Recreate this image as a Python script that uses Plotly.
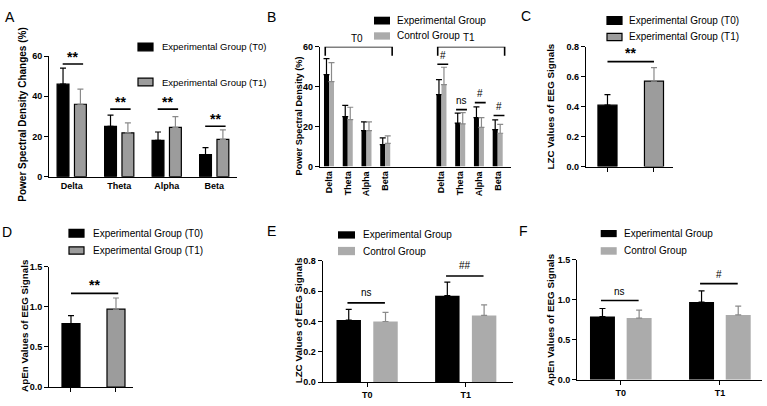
import plotly.graph_objects as go

W, H = 767, 406
FONT = "Liberation Sans, Arial, Helvetica, sans-serif"
BLACK = "#000000"
GRAY_SOLID = "#9c9c9c"   # panels A, C, D
GRAY_LIGHT = "#ababab"   # panels B, E, F
ERR_GRAY = "#8a8a8a"

# ---------------- data ----------------
bands = ["Delta", "Theta", "Alpha", "Beta"]
periods = ["T0", "T1"]
legend_ad = ["Experimental Group (T0)", "Experimental Group (T1)"]
legend_bef = ["Experimental Group", "Control Group"]
panel_letters = ["A", "B", "C", "D", "E", "F"]

# A: power spectral density changes (%)
a_t0 = [46.0, 25.0, 18.0, 11.0]
a_t0_sd = [8.0, 5.6, 4.2, 3.4]
a_t1 = [36.0, 21.8, 24.5, 18.5]
a_t1_sd = [7.5, 4.9, 5.4, 4.8]
a_sig = ["**", "**", "**", "**"]
a_sig_y = [56.0, 33.6, 33.6, 25.1]

# B: power spectral density (%) by group and period
b_t0_exp = [46.0, 25.0, 18.0, 11.0]
b_t0_exp_sd = [8.0, 5.6, 4.4, 3.4]
b_t0_ctl = [42.5, 23.5, 18.0, 11.6]
b_t0_ctl_sd = [9.5, 6.2, 4.4, 3.8]
b_t1_exp = [36.0, 21.8, 24.5, 18.5]
b_t1_exp_sd = [7.5, 5.0, 5.4, 4.9]
b_t1_ctl = [41.0, 21.4, 19.6, 16.7]
b_t1_ctl_sd = [8.7, 5.6, 4.9, 4.4]
b_sig = ["#", "ns", "#", "#"]
b_sig_y = [51.2, 28.5, 32.0, 25.6]

# C: LZC, experimental group T0 vs T1
c_vals = [0.41, 0.57]
c_sd = [0.07, 0.09]
c_sig = "**"
c_sig_y = 0.70

# D: ApEn, experimental group T0 vs T1
d_vals = [0.79, 0.97]
d_sd = [0.10, 0.14]
d_sig = "**"
d_sig_y = 1.167

# E: LZC by group
e_exp = [0.41, 0.57]
e_exp_sd = [0.07, 0.09]
e_ctl = [0.40, 0.44]
e_ctl_sd = [0.06, 0.07]
e_sig = ["ns", "##"]
e_sig_y = [0.523, 0.70]

# F: ApEn by group
f_exp = [0.79, 0.97]
f_exp_sd = [0.10, 0.14]
f_ctl = [0.77, 0.81]
f_ctl_sd = [0.10, 0.11]
f_sig = ["ns", "#"]
f_sig_y = [0.99, 1.20]


# ---------------- helpers ----------------
def px(x):
    return x / W


def py(y):
    return 1 - y / H


def err(sd, color):
    return dict(type="data", array=sd, arrayminus=[0] * len(sd), symmetric=False,
                color=color, thickness=1.2, width=3)


fig = go.Figure()
shapes = []
annotations = []


def axes(n, xpx, ypx, xrange, yrange, ytickvals, ytickfmt, xopts):
    sfx = "" if n == 1 else str(n)
    tickfont = dict(family=FONT, size=9, color=BLACK, weight="bold")
    xa = dict(domain=[px(xpx[0]), px(xpx[1])], anchor="y" + sfx, range=xrange,
              showline=True, linecolor=BLACK, linewidth=1.3, showgrid=False,
              zeroline=False, ticklen=4, tickwidth=1.2, tickcolor=BLACK,
              tickfont=tickfont, fixedrange=True)
    xa.update(xopts)
    ya = dict(domain=[py(ypx[0]), py(ypx[1])], anchor="x" + sfx, range=yrange,
              showline=True, linecolor=BLACK, linewidth=1.3, showgrid=False,
              zeroline=False, ticks="outside", ticklen=4, tickwidth=1.2,
              tickcolor=BLACK, tickvals=ytickvals, tickformat=ytickfmt,
              tickfont=tickfont, fixedrange=True)
    fig.layout["xaxis" + sfx] = xa
    fig.layout["yaxis" + sfx] = ya
    return "x" + sfx, "y" + sfx


def sig(xr, yr, x0, x1, y, text, dy, size=10, bold=False, lw=1.6):
    shapes.append(dict(type="line", xref=xr, yref=yr, x0=x0, x1=x1, y0=y, y1=y,
                       line=dict(color=BLACK, width=lw)))
    annotations.append(dict(xref=xr, yref=yr, x=(x0 + x1) / 2, y=y + dy, text=text,
                            showarrow=False, yanchor="middle",
                            font=dict(family=FONT, size=size, color=BLACK,
                                      weight="bold" if bold else "normal")))


def legend(items, x0, x1, x_text, size):
    for (y0, y1, color, border, label) in items:
        shapes.append(dict(type="rect", xref="paper", yref="paper",
                           x0=px(x0), x1=px(x1), y0=py(y1), y1=py(y0),
                           fillcolor=color,
                           line=dict(color=BLACK if border else color,
                                     width=1.2 if border else 0)))
        annotations.append(dict(xref="paper", yref="paper", x=px(x_text),
                                y=py((y0 + y1) / 2), text=label, showarrow=False,
                                xanchor="left", yanchor="middle",
                                font=dict(family=FONT, size=size, color=BLACK)))


def ytitle(text, x, yc, size=9.8):
    annotations.append(dict(xref="paper", yref="paper", x=px(x), y=py(yc),
                            text=text, textangle=-90, showarrow=False,
                            xanchor="center", yanchor="middle",
                            font=dict(family=FONT, size=size, color=BLACK,
                                      weight="bold")))


# ---------------- Panel A ----------------
xa, ya = axes(1, (49.3, 237), (176, 52.3), [-0.472, 3.48], [0, 60],
              [0, 20, 40, 60], "d",
              dict(type="category", ticks="", categoryarray=bands))
fig.add_trace(go.Bar(x=bands, y=a_t0, offset=-0.308, width=0.25, xaxis=xa, yaxis=ya,
                     marker=dict(color=BLACK, line=dict(color=BLACK, width=1.2)),
                     error_y=err(a_t0_sd, BLACK), showlegend=False))
fig.add_trace(go.Bar(x=bands, y=a_t1, offset=0.058, width=0.25, xaxis=xa, yaxis=ya,
                     marker=dict(color=GRAY_SOLID, line=dict(color=BLACK, width=1.2)),
                     error_y=err(a_t1_sd, ERR_GRAY), showlegend=False))
for i, (s, y) in enumerate(zip(a_sig, a_sig_y)):
    sig(xa, ya, i - 0.19, i + 0.24, y, s, 3.7, size=14, bold=True)
legend([(39, 47, BLACK, True, legend_ad[0]), (75, 83, GRAY_SOLID, True, legend_ad[1])],
       138, 153, 160, 9.5)
ytitle("Power Spectral Density Changes (%)", 22.5, 112, size=10)

# ---------------- Panel B ----------------
b_x_t0 = [i for i in range(len(bands))]
b_x_t1 = [i + len(bands) + 2 for i in range(len(bands))]
xb, yb = axes(2, (320, 511), (165.7, 42.7), [-0.48, 9.71], [0, 60],
              [0, 20, 40, 60], "d",
              dict(type="linear", ticks="", tickvals=b_x_t0 + b_x_t1,
                   ticktext=bands + bands, tickangle=-90))
fig.add_trace(go.Bar(x=b_x_t0 + b_x_t1, y=b_t0_exp + b_t1_exp, offset=-0.267, width=0.267,
                     xaxis=xb, yaxis=yb, marker=dict(color=BLACK, line=dict(width=0)),
                     error_y=err(b_t0_exp_sd + b_t1_exp_sd, BLACK), showlegend=False))
fig.add_trace(go.Bar(x=b_x_t0 + b_x_t1, y=b_t0_ctl + b_t1_ctl, offset=0.0, width=0.267,
                     xaxis=xb, yaxis=yb, marker=dict(color=GRAY_LIGHT, line=dict(width=0)),
                     error_y=err(b_t0_ctl_sd + b_t1_ctl_sd, ERR_GRAY), showlegend=False))
period_label_px = [(357, 34.5), (469, 33.5)]
for (xs, label, (lx, ly)) in zip((b_x_t0, b_x_t1), periods, period_label_px):
    bx0, bx1 = xs[0] - 0.2, xs[-1] + 0.37
    shapes.append(dict(type="path", xref=xb, yref=yb,
                       path=f"M {bx0},55.4 L {bx0},60 L {bx1},60 L {bx1},55.4",
                       line=dict(color=BLACK, width=1.6)))
    annotations.append(dict(xref="paper", yref="paper", x=px(lx), y=py(ly), text=label,
                            showarrow=False, xanchor="center", yanchor="middle",
                            font=dict(family=FONT, size=10, color=BLACK)))
for xi, s, y in zip(b_x_t1, b_sig, b_sig_y):
    sig(xb, yb, xi - 0.22, xi + 0.36, y, s, 4.6, size=10, bold=False)
legend([(12, 20, BLACK, False, legend_bef[0]), (28, 35.5, GRAY_LIGHT, False, legend_bef[1])],
       374, 390, 395, 10)
ytitle("Power Spectral Density (%)", 299.3, 114, size=9.2)

# ---------------- Panel C ----------------
xc, yc = axes(3, (586, 673), (165.7, 42.7), [-0.462, 1.409], [0, 0.8],
              [0, 0.2, 0.4, 0.6, 0.8], ".1f",
              dict(type="category", ticks="outside", showticklabels=False,
                   categoryarray=periods))
fig.add_trace(go.Bar(x=[periods[0]], y=[c_vals[0]], offset=-0.205, width=0.41,
                     xaxis=xc, yaxis=yc,
                     marker=dict(color=BLACK, line=dict(color=BLACK, width=1.2)),
                     error_y=err([c_sd[0]], BLACK), showlegend=False))
fig.add_trace(go.Bar(x=[periods[1]], y=[c_vals[1]], offset=-0.205, width=0.41,
                     xaxis=xc, yaxis=yc,
                     marker=dict(color=GRAY_SOLID, line=dict(color=BLACK, width=1.2)),
                     error_y=err([c_sd[1]], ERR_GRAY), showlegend=False))
sig(xc, yc, 0, 1, c_sig_y, c_sig, 0.057, size=14, bold=True)
legend([(12, 20, BLACK, True, legend_ad[0]), (29, 36.5, GRAY_SOLID, True, legend_ad[1])],
       607, 622, 627, 10)
ytitle("LZC Values of EEG Signals", 550, 104)

# ---------------- Panel D ----------------
xd, yd = axes(4, (49.3, 133), (391.7, 268.3), [-0.482, 1.378], [0, 1.5],
              [0, 0.5, 1.0, 1.5], ".1f",
              dict(type="category", ticks="outside", showticklabels=False,
                   categoryarray=periods))
fig.add_trace(go.Bar(x=[periods[0]], y=[d_vals[0]], offset=-0.2, width=0.4,
                     xaxis=xd, yaxis=yd,
                     marker=dict(color=BLACK, line=dict(color=BLACK, width=1.2)),
                     error_y=err([d_sd[0]], BLACK), showlegend=False))
fig.add_trace(go.Bar(x=[periods[1]], y=[d_vals[1]], offset=-0.2, width=0.4,
                     xaxis=xd, yaxis=yd,
                     marker=dict(color=GRAY_SOLID, line=dict(color=BLACK, width=1.2)),
                     error_y=err([d_sd[1]], ERR_GRAY), showlegend=False))
sig(xd, yd, 0, 1.05, d_sig_y, d_sig, 0.105, size=14, bold=True)
legend([(230, 238, BLACK, True, legend_ad[0]), (248, 255.5, GRAY_SOLID, True, legend_ad[1])],
       69, 84, 90.7, 10)
ytitle("ApEn Values of EEG Signals", 25, 329)

# ---------------- Panel E ----------------
xe, ye = axes(5, (322.7, 513), (386.7, 262.3), [-0.451, 1.479], [0, 0.8],
              [0, 0.2, 0.4, 0.6, 0.8], ".1f",
              dict(type="category", ticks="outside", categoryarray=periods))
fig.add_trace(go.Bar(x=periods, y=e_exp, offset=-0.311, width=0.248, xaxis=xe, yaxis=ye,
                     marker=dict(color=BLACK, line=dict(width=0)),
                     error_y=err(e_exp_sd, BLACK), showlegend=False))
fig.add_trace(go.Bar(x=periods, y=e_ctl, offset=0.062, width=0.248, xaxis=xe, yaxis=ye,
                     marker=dict(color=GRAY_LIGHT, line=dict(width=0)),
                     error_y=err(e_ctl_sd, ERR_GRAY), showlegend=False))
for i, (s, y) in enumerate(zip(e_sig, e_sig_y)):
    sig(xe, ye, i - 0.2, i + 0.18, y, s, 0.068, size=10, bold=False)
legend([(232, 239.5, BLACK, False, legend_bef[0]), (248, 256.5, GRAY_LIGHT, False, legend_bef[1])],
       338, 355, 360.7, 10)
ytitle("LZC Values of EEG Signals", 298.3, 323)

# ---------------- Panel F ----------------
xf, yf = axes(6, (577.3, 761.7), (384.3, 261), [-0.439, 1.422], [0, 1.5],
              [0, 0.5, 1.0, 1.5], ".1f",
              dict(type="category", ticks="outside", categoryarray=periods))
fig.add_trace(go.Bar(x=periods, y=f_exp, offset=-0.311, width=0.252, xaxis=xf, yaxis=yf,
                     marker=dict(color=BLACK, line=dict(width=0)),
                     error_y=err(f_exp_sd, BLACK), showlegend=False))
fig.add_trace(go.Bar(x=periods, y=f_ctl, offset=0.059, width=0.252, xaxis=xf, yaxis=yf,
                     marker=dict(color=GRAY_LIGHT, line=dict(width=0)),
                     error_y=err(f_ctl_sd, ERR_GRAY), showlegend=False))
for i, (s, y) in enumerate(zip(f_sig, f_sig_y)):
    sig(xf, yf, i - 0.2, i + 0.18, y, s, 0.11, size=10, bold=False)
legend([(230.7, 238, BLACK, False, legend_bef[0]), (248.3, 256, GRAY_LIGHT, False, legend_bef[1])],
       600.7, 616.7, 622, 10)
ytitle("ApEn Values of EEG Signals", 550, 323)

# ---------------- Panel letters ----------------
letter_pos = [(9.5, 12), (271, 12), (526, 11), (6.7, 232.5), (271, 232), (523, 232)]
for letter, (lx, ly) in zip(panel_letters, letter_pos):
    annotations.append(dict(xref="paper", yref="paper", x=px(lx), y=py(ly), text=letter,
                            showarrow=False, xanchor="center", yanchor="middle",
                            font=dict(family=FONT, size=14, color=BLACK)))

fig.update_layout(
    width=W, height=H, margin=dict(l=0, r=0, t=0, b=0),
    paper_bgcolor="white", plot_bgcolor="white",
    barmode="overlay", showlegend=False,
    font=dict(family=FONT, color=BLACK),
    shapes=shapes, annotations=annotations,
)

fig.write_html("out.html")
